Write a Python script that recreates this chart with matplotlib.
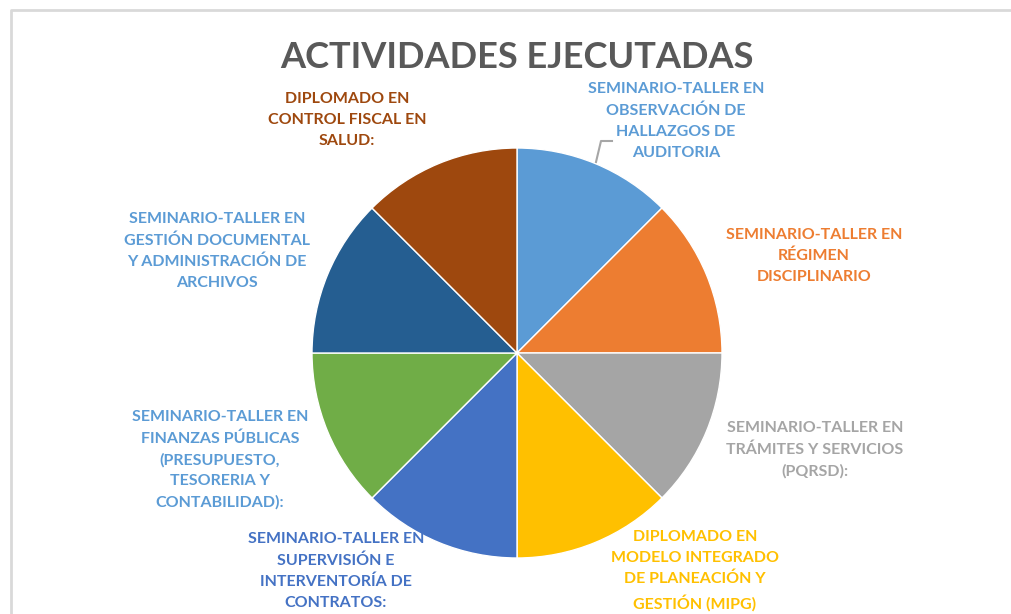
import matplotlib
matplotlib.use("Agg")
import matplotlib.pyplot as plt
from matplotlib.lines import Line2D

W, H = 1011, 614

categories = [
    "SEMINARIO-TALLER EN\nOBSERVACIÓN DE\nHALLAZGOS DE\nAUDITORIA",
    "SEMINARIO-TALLER EN\nRÉGIMEN\nDISCIPLINARIO",
    "SEMINARIO-TALLER EN\nTRÁMITES Y SERVICIOS\n(PQRSD):",
    "DIPLOMADO EN\nMODELO INTEGRADO\nDE PLANEACIÓN Y\nGESTIÓN (MIPG)",
    "SEMINARIO-TALLER EN\nSUPERVISIÓN E\nINTERVENTORÍA DE\nCONTRATOS:",
    "SEMINARIO-TALLER EN\nFINANZAS PÚBLICAS\n(PRESUPUESTO,\nTESORERIA Y\nCONTABILIDAD):",
    "SEMINARIO-TALLER EN\nGESTIÓN DOCUMENTAL\nY ADMINISTRACIÓN DE\nARCHIVOS",
    "DIPLOMADO EN\nCONTROL FISCAL EN\nSALUD:",
]
values = [1, 1, 1, 1, 1, 1, 1, 1]
slice_colors = ["#5B9BD5", "#ED7D31", "#A5A5A5", "#FFC000",
                "#4472C4", "#70AD47", "#255E91", "#9E480E"]
label_colors = ["#5B9BD5", "#ED7D31", "#A5A5A5", "#FFC000",
                "#4472C4", "#5B9BD5", "#5B9BD5", "#9E480E"]
# label block centres in pixel coordinates (x, y from top)
label_pos = [(676, 121), (814, 256), (815, 450), (695, 571),
             (336, 571), (220, 460), (217, 251), (347, 120)]

fig = plt.figure(figsize=(W / 100, H / 100), dpi=100)
ax = fig.add_axes([0, 0, 1, 1])

ax.pie(values, colors=slice_colors, startangle=90, counterclock=False,
       center=(517, H - 353), radius=205, frame=True,
       wedgeprops=dict(linewidth=1, edgecolor="white"))
ax.set_xlim(0, W)
ax.set_ylim(0, H)
ax.set_aspect("equal")
ax.axis("off")

for text, color, (x, y) in zip(categories, label_colors, label_pos):
    ax.text(x, H - y, text, ha="center", va="center", color=color,
            fontsize=11.5, fontweight="bold", family="Lato", linespacing=1.62)

ax.text(517, H - 58, "ACTIVIDADES EJECUTADAS", ha="center", va="center",
        color="#595959", fontsize=26, fontweight="bold", family="Lato")

# leader line for the first label
ax.add_line(Line2D([596, 601, 612], [H - 162, H - 141, H - 141],
                   color="#A6A6A6", linewidth=1.5))

# chart area border (left and top edges visible)
ax.add_line(Line2D([11, 11, W], [0, H - 10, H - 10], color="#D9D9D9", linewidth=2))

fig.savefig("out.png", dpi=100)
